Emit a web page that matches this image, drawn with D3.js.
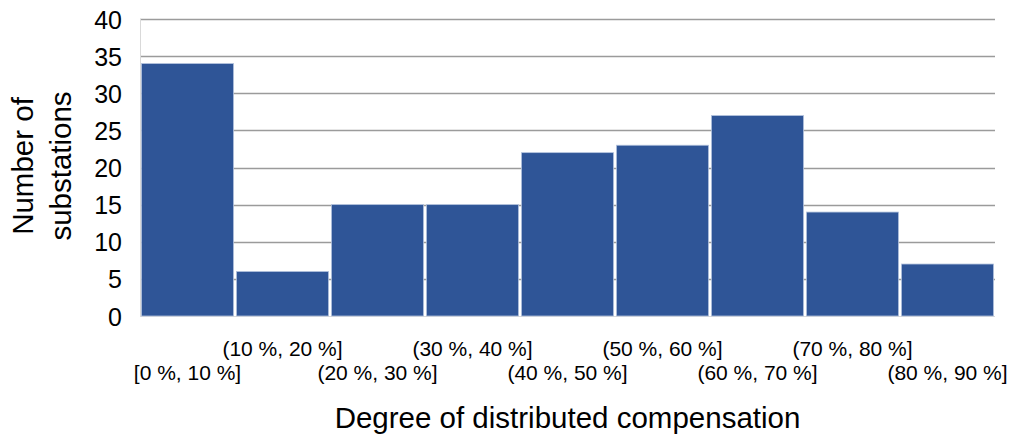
<!DOCTYPE html>
<html>
<head>
<meta charset="utf-8">
<script src="https://cdn.jsdelivr.net/npm/d3@7/dist/d3.min.js"></script>
<style>
  html, body { margin: 0; padding: 0; background: #fff; }
  svg { display: block; font-family: "Liberation Sans", Arial, sans-serif; }
</style>
</head>
<body>
<svg id="chart" width="1016" height="434"></svg>
<script>
// Histogram of substations by degree of distributed compensation
const categories = ["[0 %, 10 %]", "(10 %, 20 %]", "(20 %, 30 %]", "(30 %, 40 %]", "(40 %, 50 %]",
                    "(50 %, 60 %]", "(60 %, 70 %]", "(70 %, 80 %]", "(80 %, 90 %]"];
const counts = [34, 6, 15, 15, 22, 23, 27, 14, 7];
const yTicks = [0, 5, 10, 15, 20, 25, 30, 35, 40];

const svg = d3.select("#chart");
const margin = { left: 140, right: 21, top: 19, bottom: 118 };
const W = 1016, H = 434;
const plotW = W - margin.left - margin.right;
const plotH = H - margin.top - margin.bottom;
const FONT = "Liberation Sans, Arial, sans-serif";

const g = svg.append("g").attr("transform", `translate(${margin.left},${margin.top})`);

const x = d3.scaleBand().domain(categories).range([0, plotW]).paddingInner(0.03).paddingOuter(0.015);
const y = d3.scaleLinear().domain([0, 40]).range([plotH, 0]);

// horizontal gridlines
g.selectAll("line.grid").data(yTicks.filter(t => t > 0)).join("line")
  .attr("class", "grid")
  .attr("x1", 0).attr("x2", plotW)
  .attr("y1", d => Math.round(y(d)) + 0.5).attr("y2", d => Math.round(y(d)) + 0.5)
  .attr("stroke", "#9b9b9b").attr("stroke-width", 1.3);

// left axis line
g.append("line").attr("x1", 0.5).attr("x2", 0.5).attr("y1", 0).attr("y2", plotH)
  .attr("stroke", "#d9d9d9").attr("stroke-width", 1);
// bottom axis line
g.append("line").attr("x1", 0).attr("x2", plotW).attr("y1", plotH + 0.5).attr("y2", plotH + 0.5)
  .attr("stroke", "#d9d9d9").attr("stroke-width", 1);

// bars
g.selectAll("rect.bar").data(counts).join("rect")
  .attr("class", "bar")
  .attr("x", (d, i) => x(categories[i]))
  .attr("width", x.bandwidth())
  .attr("y", d => y(d))
  .attr("height", d => plotH - y(d))
  .attr("fill", "#2f5597")
  .attr("stroke", "#b4c3de").attr("stroke-width", 0.8);

// y axis tick labels
const yAxis = d3.axisLeft(y).tickValues(yTicks).tickSize(0).tickPadding(18);
const yg = g.append("g").call(yAxis).attr("font-size", 25).attr("font-family", FONT);
yg.select(".domain").remove();
yg.selectAll("text").attr("fill", "#000").attr("dy", "0.36em");

// x axis labels, staggered on two rows
const xAxis = d3.axisBottom(x).tickSize(0);
const xg = g.append("g").attr("transform", `translate(0,${plotH})`).call(xAxis)
  .attr("font-size", 21).attr("font-family", FONT);
xg.select(".domain").remove();
xg.selectAll("text")
  .attr("fill", "#000")
  .attr("dy", null)
  .attr("y", (d, i) => i % 2 === 0 ? 64 : 40);

// axis titles
svg.append("text")
  .attr("x", margin.left + plotW / 2).attr("y", 428)
  .attr("text-anchor", "middle").attr("font-size", 29.5).attr("fill", "#000")
  .attr("font-family", FONT)
  .text("Degree of distributed compensation");

const yt = svg.append("text")
  .attr("transform", `translate(0, 166) rotate(-90)`)
  .attr("text-anchor", "middle").attr("font-size", 29.5).attr("fill", "#000")
  .attr("font-family", FONT);
yt.append("tspan").attr("x", 0).attr("y", 33).text("Number of");
yt.append("tspan").attr("x", 0).attr("y", 71).text("substations");
</script>
</body>
</html>
